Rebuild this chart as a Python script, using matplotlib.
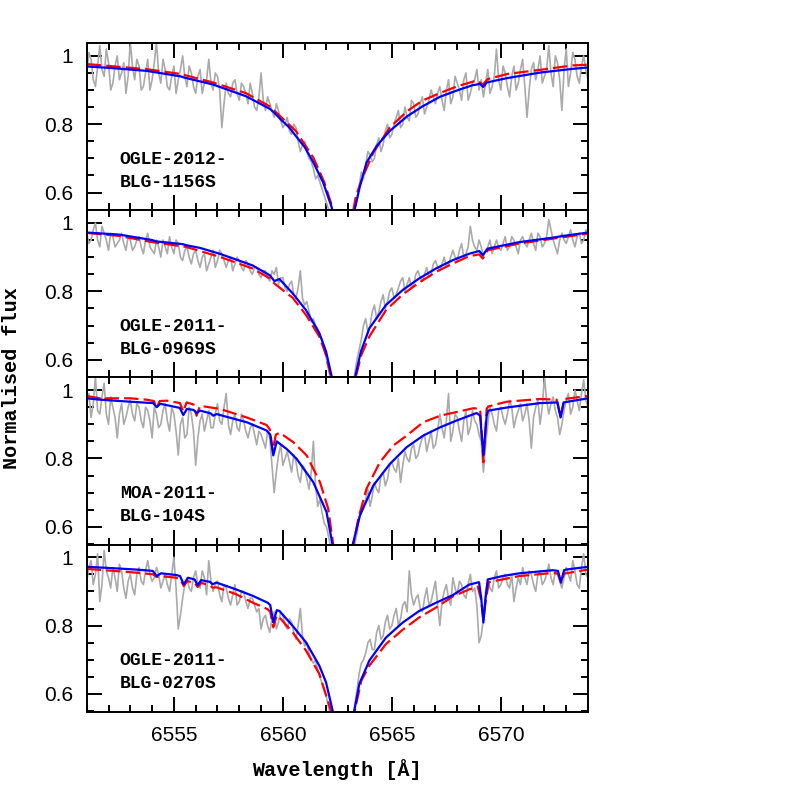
import numpy as np
import matplotlib.pyplot as plt
from matplotlib.ticker import FixedLocator, MultipleLocator

# observed spectra: obsN at 6551.0, 6551.2, ... and obsN_mid at 6551.1, 6551.3, ...
obs_start = 6551.0
obs_step = 0.1

obs1 = [0.95, 0.99, 0.91, 1.03, 0.94, 0.98, 0.92, 1.00, 0.95, 0.89,
        1.04, 0.93, 0.97, 0.91, 0.99, 0.93, 1.04, 0.92, 0.96, 0.90,
        0.97, 0.93, 1.00, 0.91, 0.95, 0.89, 0.96, 0.92, 0.99, 0.90,
        0.94, 0.79, 0.92, 0.88, 0.93, 0.87, 0.91, 0.86, 0.89, 0.84,
        0.95, 0.84, 0.86, 0.82, 0.84, 0.79, 0.82, 0.77, 0.79, 0.72,
        0.75, 0.70, 0.67, 0.65, 0.61, 0.57, 0.52, 0.46, 0.42, 0.40,
        0.44, 0.50, 0.58, 0.66, 0.68, 0.71, 0.70, 0.76, 0.74, 0.80,
        0.77, 0.82, 0.79, 0.85, 0.81, 0.86, 0.83, 0.88, 0.85, 0.90,
        0.86, 0.91, 0.84, 0.93, 0.88, 0.92, 0.87, 0.95, 0.89, 0.93,
        0.90, 0.88, 0.96, 0.91, 1.02, 0.90, 0.95, 0.88, 0.97, 0.92,
        0.99, 0.82, 0.96, 0.93, 1.00, 0.94, 1.03, 0.91, 0.98, 0.84,
        1.02, 0.95, 0.99, 0.92, 1.00, 0.93]
obs1_mid = [1.01, 0.93, 0.97, 0.96, 1.02, 0.90, 0.97, 0.93, 0.98, 0.94,
            0.97, 0.99, 0.90, 0.95, 0.90, 0.98, 0.95, 0.99, 0.91, 0.94,
            0.89, 0.96, 0.94, 0.97, 0.91, 0.94, 0.89, 0.93, 0.92, 0.95,
            0.90, 0.86, 0.89, 0.92, 0.89, 0.92, 0.89, 0.92, 0.85, 0.88,
            0.87, 0.88, 0.84, 0.86, 0.81, 0.80, 0.78, 0.80, 0.75, 0.74,
            0.72, 0.69, 0.64, 0.63, 0.59, 0.55, 0.49, 0.44, 0.41, 0.42,
            0.47, 0.55, 0.62, 0.64, 0.72, 0.69, 0.74, 0.72, 0.78, 0.76,
            0.80, 0.84, 0.80, 0.82, 0.87, 0.82, 0.86, 0.83, 0.87, 0.88,
            0.89, 0.87, 0.90, 0.86, 0.94, 0.90, 0.93, 0.87, 0.92, 0.96,
            0.93, 0.92, 0.89, 0.94, 0.93, 0.97, 0.91, 0.94, 0.90, 0.96,
            0.91, 0.90, 0.98, 0.96, 0.92, 0.96, 0.95, 1.00, 0.93, 0.96,
            0.91, 1.01, 0.94, 0.97, 0.96]

obs2 = [0.97, 0.95, 1.00, 0.93, 0.97, 0.92, 0.96, 0.94, 0.97, 0.92,
        0.95, 0.93, 0.96, 0.91, 0.97, 0.92, 0.95, 0.90, 0.93, 0.96,
        0.91, 0.94, 0.89, 0.93, 0.88, 0.92, 0.87, 0.91, 0.88, 0.92,
        0.89, 0.91, 0.87, 0.90, 0.88, 0.89, 0.86, 0.88, 0.85, 0.87,
        0.84, 0.86, 0.83, 0.85, 0.82, 0.84, 0.80, 0.83, 0.78, 0.86,
        0.76, 0.74, 0.72, 0.69, 0.66, 0.60, 0.54, 0.47, 0.42, 0.40,
        0.44, 0.51, 0.60, 0.66, 0.72, 0.70, 0.76, 0.74, 0.79, 0.77,
        0.81, 0.79, 0.83, 0.80, 0.84, 0.82, 0.86, 0.83, 0.87, 0.85,
        0.89, 0.86, 0.90, 0.88, 0.92, 0.89, 0.94, 0.91, 0.99, 0.93,
        0.95, 0.90, 0.93, 0.91, 0.95, 0.92, 0.96, 0.93, 0.95, 0.91,
        0.96, 0.93, 0.97, 0.92, 0.96, 0.94, 1.01, 0.95, 0.91, 0.97,
        0.94, 0.98, 0.93, 0.97, 0.95, 0.96]
obs2_mid = [0.94, 0.98, 0.95, 0.99, 0.95, 0.97, 0.93, 0.95, 0.94, 0.96,
            0.92, 0.95, 0.93, 0.95, 0.93, 0.91, 0.93, 0.95, 0.91, 0.93,
            0.95, 0.90, 0.92, 0.90, 0.91, 0.89, 0.90, 0.86, 0.90, 0.87,
            0.92, 0.89, 0.89, 0.86, 0.90, 0.87, 0.89, 0.86, 0.87, 0.85,
            0.86, 0.84, 0.86, 0.87, 0.84, 0.81, 0.82, 0.79, 0.81, 0.78,
            0.77, 0.71, 0.70, 0.67, 0.63, 0.57, 0.50, 0.44, 0.41, 0.41,
            0.47, 0.56, 0.63, 0.70, 0.68, 0.74, 0.72, 0.77, 0.75, 0.80,
            0.78, 0.81, 0.84, 0.82, 0.81, 0.85, 0.84, 0.85, 0.84, 0.88,
            0.87, 0.88, 0.87, 0.90, 0.90, 0.92, 0.90, 0.93, 0.95, 0.92,
            0.93, 0.92, 0.95, 0.93, 0.93, 0.94, 0.92, 0.96, 0.93, 0.95,
            0.94, 0.95, 0.94, 0.97, 0.93, 0.96, 0.98, 0.93, 0.95, 0.95,
            0.96, 0.95, 0.96, 0.94, 0.98]

obs3 = [0.96, 0.92, 1.04, 0.93, 1.02, 0.90, 0.95, 0.86, 0.96, 0.92,
        0.97, 0.91, 0.95, 0.89, 0.94, 0.86, 0.93, 0.90, 0.96, 0.88,
        0.93, 0.81, 0.92, 0.87, 0.93, 0.78, 0.91, 0.88, 0.94, 0.89,
        0.96, 0.90, 0.99, 0.87, 0.93, 0.88, 0.91, 0.86, 0.90, 0.84,
        0.87, 0.83, 0.86, 0.70, 0.81, 0.78, 0.82, 0.76, 0.79, 0.73,
        0.77, 0.71, 0.85, 0.66, 0.64, 0.60, 0.54, 0.48, 0.43, 0.41,
        0.45, 0.52, 0.58, 0.64, 0.68, 0.66, 0.73, 0.70, 0.76, 0.74,
        0.79, 0.76, 0.73, 0.82, 0.79, 0.84, 0.81, 0.86, 0.82, 0.88,
        0.84, 0.93, 0.86, 0.99, 0.88, 0.92, 0.85, 0.94, 0.89, 0.91,
        0.87, 0.76, 0.90, 0.93, 0.88, 0.95, 0.90, 0.97, 0.89, 0.94,
        0.91, 0.96, 0.83, 0.95, 0.90, 1.04, 0.93, 0.98, 0.92, 0.90,
        0.97, 0.93, 1.00, 0.94, 1.03, 0.95]
obs3_mid = [0.99, 0.96, 0.94, 0.98, 0.93, 0.98, 0.92, 0.93, 0.90, 0.95,
            0.93, 0.96, 0.91, 0.95, 0.91, 0.95, 0.89, 0.94, 0.91, 0.95,
            0.88, 0.90, 0.86, 0.95, 0.88, 0.86, 0.93, 0.91, 0.89, 0.93,
            0.91, 0.95, 0.90, 0.91, 0.89, 0.93, 0.88, 0.89, 0.87, 0.88,
            0.85, 0.88, 0.78, 0.76, 0.84, 0.80, 0.79, 0.81, 0.75, 0.78,
            0.74, 0.76, 0.72, 0.68, 0.61, 0.57, 0.50, 0.45, 0.42, 0.42,
            0.48, 0.55, 0.63, 0.66, 0.71, 0.69, 0.71, 0.75, 0.72, 0.78,
            0.77, 0.80, 0.78, 0.80, 0.83, 0.80, 0.84, 0.87, 0.85, 0.83,
            0.88, 0.89, 0.91, 0.85, 0.93, 0.88, 0.91, 0.87, 0.94, 0.90,
            0.85, 0.84, 0.95, 0.90, 0.94, 0.92, 0.93, 0.95, 0.92, 0.96,
            0.93, 0.91, 0.92, 0.97, 0.95, 0.97, 0.96, 0.94, 0.87, 0.94,
            0.99, 0.95, 0.97, 0.99, 0.97]

obs4 = [0.93, 0.99, 0.95, 0.87, 1.02, 0.94, 0.97, 0.90, 0.96, 0.88,
        0.95, 0.89, 0.97, 0.92, 0.99, 0.93, 0.97, 0.91, 0.95, 0.90,
        1.00, 0.79, 0.88, 0.94, 0.90, 0.96, 0.91, 0.94, 0.99, 0.90,
        0.93, 0.87, 0.91, 0.86, 0.92, 0.87, 0.90, 0.85, 0.88, 0.84,
        0.79, 0.83, 0.78, 0.84, 0.81, 0.83, 0.79, 0.81, 0.76, 0.85,
        0.74, 0.72, 0.69, 0.67, 0.63, 0.59, 0.53, 0.47, 0.42, 0.40,
        0.45, 0.52, 0.61, 0.69, 0.72, 0.76, 0.73, 0.80, 0.77, 0.83,
        0.80, 0.85, 0.82, 0.87, 0.96, 0.86, 0.89, 0.84, 0.91, 0.87,
        0.93, 0.80, 0.90, 0.88, 0.94, 0.89, 0.92, 0.88, 0.95, 0.91,
        0.75, 0.82, 0.93, 0.90, 0.96, 0.92, 0.95, 0.91, 0.87, 0.94,
        0.97, 0.92, 0.95, 0.90, 0.96, 0.93, 0.98, 0.92, 0.95, 0.91,
        0.97, 0.93, 0.96, 0.91, 1.01, 0.94]
obs4_mid = [0.97, 0.92, 1.01, 0.92, 0.96, 0.91, 0.94, 0.98, 0.91, 0.93,
            0.91, 0.95, 0.93, 0.96, 0.95, 0.94, 0.95, 0.93, 0.92, 0.95,
            0.91, 0.83, 0.92, 0.91, 0.94, 0.92, 0.96, 0.89, 0.93, 0.92,
            0.89, 0.92, 0.88, 0.89, 0.86, 0.90, 0.87, 0.88, 0.86, 0.85,
            0.82, 0.80, 0.82, 0.79, 0.84, 0.80, 0.82, 0.78, 0.80, 0.77,
            0.75, 0.70, 0.70, 0.65, 0.61, 0.56, 0.50, 0.44, 0.41, 0.42,
            0.48, 0.57, 0.66, 0.70, 0.75, 0.73, 0.78, 0.76, 0.81, 0.79,
            0.83, 0.80, 0.86, 0.84, 0.89, 0.88, 0.85, 0.88, 0.86, 0.90,
            0.86, 0.87, 0.92, 0.86, 0.91, 0.93, 0.89, 0.92, 0.90, 0.86,
            0.77, 0.90, 0.91, 0.94, 0.91, 0.94, 0.92, 0.95, 0.91, 0.92,
            0.94, 0.96, 0.92, 0.95, 0.92, 0.95, 0.94, 0.96, 0.93, 0.94,
            0.95, 0.99, 0.92, 0.97, 0.95]

# model 1 (blue, solid)
blue1_w = [6551.0, 6552.2, 6553.75, 6555.3, 6555.5, 6556.8, 6558.3, 6559.4, 6559.6, 6559.9,
           6560.3, 6560.6, 6561.0, 6561.4, 6561.85, 6562.24, 6562.4, 6562.75, 6563.1, 6563.3,
           6563.54, 6563.84, 6564.3, 6564.9, 6565.7, 6566.4, 6567.2, 6568.0, 6568.7, 6569.05,
           6569.19, 6569.35, 6570.3, 6571.8, 6573.3, 6574.0]
blue1_f = [0.969, 0.964, 0.956, 0.940, 0.936, 0.916, 0.882, 0.845, 0.834, 0.814,
           0.790, 0.765, 0.733, 0.688, 0.629, 0.557, 0.50, 0.35, 0.50, 0.552,
           0.620, 0.688, 0.736, 0.780, 0.823, 0.852, 0.880, 0.899, 0.914, 0.918,
           0.909, 0.922, 0.935, 0.951, 0.962, 0.966]

blue2_w = [6551.0, 6552.5, 6554.0, 6554.2, 6555.4, 6555.56, 6556.2, 6557.1, 6558.6, 6559.4,
           6559.61, 6559.84, 6560.45, 6561.06, 6561.67, 6561.98, 6562.24, 6562.4, 6562.75, 6563.1,
           6563.32, 6563.58, 6563.97, 6564.73, 6565.5, 6566.26, 6567.03, 6567.79, 6568.55, 6569.01,
           6569.17, 6569.4, 6570.85, 6572.38, 6572.84, 6574.0]
blue2_f = [0.972, 0.966, 0.950, 0.946, 0.938, 0.935, 0.927, 0.910, 0.876, 0.847,
           0.830, 0.836, 0.794, 0.745, 0.678, 0.624, 0.551, 0.50, 0.35, 0.50,
           0.551, 0.624, 0.692, 0.760, 0.804, 0.838, 0.867, 0.891, 0.910, 0.918,
           0.906, 0.925, 0.944, 0.957, 0.962, 0.972]

blue3_w = [6551.0, 6551.6, 6553.0, 6554.05, 6554.21, 6554.37, 6555.27, 6555.43, 6555.6, 6555.9,
           6556.04, 6556.2, 6556.68, 6556.81, 6556.95, 6558.34, 6559.25, 6559.42, 6559.56, 6559.72,
           6559.86, 6560.17, 6560.63, 6561.39, 6562.0, 6562.28, 6562.45, 6562.75, 6563.05, 6563.2,
           6563.54, 6564.15, 6564.91, 6565.68, 6566.44, 6567.21, 6567.97, 6568.89, 6569.05, 6569.2,
           6569.35, 6569.42, 6570.27, 6571.79, 6572.6, 6572.74, 6572.88, 6574.0]
blue3_f = [0.976, 0.972, 0.966, 0.962, 0.950, 0.960, 0.948, 0.927, 0.945, 0.942,
           0.933, 0.940, 0.932, 0.925, 0.930, 0.906, 0.882, 0.870, 0.809, 0.850,
           0.843, 0.828, 0.799, 0.731, 0.644, 0.547, 0.48, 0.35, 0.48, 0.547,
           0.634, 0.721, 0.784, 0.833, 0.867, 0.891, 0.911, 0.933, 0.925, 0.809,
           0.925, 0.940, 0.949, 0.962, 0.964, 0.920, 0.964, 0.976]

blue4_w = [6551.0, 6551.9, 6553.26, 6554.03, 6554.21, 6554.41, 6555.1, 6555.28, 6555.45, 6555.65,
           6555.95, 6556.09, 6556.25, 6556.65, 6556.78, 6556.95, 6557.85, 6558.62, 6559.3, 6559.42,
           6559.56, 6559.72, 6559.84, 6560.45, 6561.06, 6561.67, 6561.98, 6562.28, 6562.45, 6562.75,
           6563.05, 6563.28, 6563.51, 6563.97, 6564.73, 6565.5, 6566.26, 6567.03, 6567.79, 6568.55,
           6569.0, 6569.1, 6569.2, 6569.3, 6569.4, 6570.08, 6570.85, 6572.38, 6572.62, 6572.76,
           6572.9, 6573.0, 6574.0]
blue4_f = [0.972, 0.969, 0.964, 0.960, 0.945, 0.953, 0.948, 0.945, 0.921, 0.940,
           0.935, 0.918, 0.933, 0.928, 0.921, 0.926, 0.906, 0.887, 0.867, 0.860,
           0.809, 0.845, 0.843, 0.799, 0.751, 0.683, 0.634, 0.552, 0.48, 0.35,
           0.48, 0.552, 0.630, 0.698, 0.765, 0.809, 0.843, 0.867, 0.889, 0.920,
           0.927, 0.880, 0.809, 0.880, 0.935, 0.945, 0.953, 0.962, 0.960, 0.927,
           0.962, 0.964, 0.972]

# model 2 (red, dashed)
red1_w = [6551.0, 6553.75, 6555.3, 6556.8, 6558.3, 6559.4, 6560.6, 6561.4, 6561.9, 6562.2,
          6562.4, 6562.75, 6563.1, 6563.35, 6563.69, 6564.15, 6564.9, 6565.7, 6566.4, 6567.2,
          6568.0, 6568.9, 6569.17, 6569.4, 6570.3, 6571.8, 6573.3, 6574.0]
red1_f = [0.976, 0.961, 0.947, 0.922, 0.891, 0.852, 0.780, 0.702, 0.630, 0.571,
          0.52, 0.35, 0.50, 0.59, 0.649, 0.717, 0.790, 0.838, 0.869, 0.891,
          0.911, 0.928, 0.916, 0.932, 0.947, 0.959, 0.972, 0.974]

red2_w = [6551.0, 6552.5, 6554.0, 6555.56, 6557.1, 6558.6, 6559.4, 6559.61, 6560.45, 6561.06,
          6561.67, 6561.98, 6562.2, 6562.4, 6562.75, 6563.1, 6563.35, 6563.6, 6563.97, 6564.73,
          6565.5, 6566.26, 6567.03, 6567.79, 6568.55, 6569.01, 6569.17, 6569.4, 6570.85, 6572.38,
          6574.0]
red2_f = [0.971, 0.962, 0.944, 0.930, 0.901, 0.867, 0.838, 0.823, 0.781, 0.731,
          0.668, 0.614, 0.551, 0.50, 0.35, 0.50, 0.551, 0.614, 0.668, 0.745,
          0.791, 0.826, 0.857, 0.881, 0.903, 0.908, 0.896, 0.920, 0.940, 0.954,
          0.969]

red3_w = [6551.0, 6551.6, 6551.75, 6551.9, 6553.0, 6553.75, 6554.08, 6554.21, 6554.35, 6554.67,
          6555.28, 6555.43, 6555.58, 6555.9, 6556.04, 6556.2, 6557.11, 6558.34, 6559.25, 6559.4,
          6559.53, 6559.68, 6559.86, 6560.47, 6561.09, 6561.7, 6562.08, 6562.31, 6562.45, 6562.75,
          6563.05, 6563.23, 6563.46, 6563.84, 6564.45, 6565.07, 6565.68, 6566.44, 6567.21, 6568.74,
          6569.05, 6569.2, 6569.35, 6569.42, 6570.27, 6571.79, 6572.56, 6572.74, 6572.92, 6574.0]
red3_f = [0.983, 0.976, 0.969, 0.976, 0.976, 0.972, 0.968, 0.948, 0.968, 0.969,
          0.962, 0.937, 0.964, 0.958, 0.925, 0.954, 0.945, 0.920, 0.898, 0.885,
          0.823, 0.870, 0.875, 0.848, 0.809, 0.731, 0.653, 0.547, 0.48, 0.35,
          0.48, 0.547, 0.624, 0.712, 0.789, 0.838, 0.867, 0.906, 0.925, 0.947,
          0.945, 0.789, 0.945, 0.952, 0.966, 0.974, 0.972, 0.920, 0.974, 0.983]

red4_w = [6551.0, 6553.26, 6554.05, 6554.21, 6554.4, 6555.1, 6555.3, 6555.45, 6555.62, 6555.95,
          6556.09, 6556.25, 6556.65, 6556.78, 6556.95, 6557.85, 6558.62, 6559.3, 6559.42, 6559.56,
          6559.72, 6559.84, 6560.45, 6561.06, 6561.67, 6562.2, 6562.45, 6562.75, 6563.05, 6563.3,
          6563.6, 6563.97, 6564.73, 6565.5, 6566.26, 6567.03, 6567.79, 6568.55, 6568.94, 6569.08,
          6569.2, 6569.32, 6569.45, 6570.85, 6572.38, 6572.62, 6572.76, 6572.9, 6573.0, 6574.0]
red4_f = [0.966, 0.955, 0.950, 0.942, 0.945, 0.940, 0.935, 0.916, 0.930, 0.925,
          0.913, 0.925, 0.918, 0.911, 0.912, 0.892, 0.867, 0.848, 0.840, 0.795,
          0.830, 0.824, 0.780, 0.727, 0.659, 0.552, 0.48, 0.35, 0.48, 0.552,
          0.639, 0.683, 0.746, 0.788, 0.824, 0.853, 0.885, 0.906, 0.914, 0.880,
          0.819, 0.880, 0.927, 0.945, 0.954, 0.952, 0.925, 0.952, 0.953, 0.964]

names = [("OGLE-2012-", "BLG-1156S"),
         ("OGLE-2011-", "BLG-0969S"),
         ("MOA-2011-", "BLG-104S"),
         ("OGLE-2011-", "BLG-0270S")]

observed = [(obs1, obs1_mid), (obs2, obs2_mid), (obs3, obs3_mid), (obs4, obs4_mid)]
blues = [(blue1_w, blue1_f), (blue2_w, blue2_f), (blue3_w, blue3_f), (blue4_w, blue4_f)]
reds = [(red1_w, red1_f), (red2_w, red2_f), (red3_w, red3_f), (red4_w, red4_f)]

xticks = [6555, 6560, 6565, 6570]
yticks = [0.6, 0.8, 1.0]
ytick_labels = ["0.6", "0.8", "1"]

mono = ["Liberation Mono", "DejaVu Sans Mono"]
plt.rcParams["font.family"] = ["Liberation Sans", "DejaVu Sans"]

fig = plt.figure(figsize=(7.97, 7.97), dpi=100)

left = 0.1088
width = 0.629
height = 0.2097
bottom0 = 0.107

for i in range(4):
    ax = fig.add_axes([left, bottom0 + (3 - i) * height, width, height])
    even, odd = observed[i]
    flux = np.empty(len(even) + len(odd))
    flux[0::2] = even
    flux[1::2] = odd
    wave = obs_start + obs_step * np.arange(len(flux))
    ax.plot(wave, flux, color="#aaaaaa", lw=1.2)
    ax.plot(reds[i][0], reds[i][1], color="#ff0000", lw=1.6, ls=(0, (6.5, 2.3)))
    ax.plot(blues[i][0], blues[i][1], color="#0000ff", lw=1.6)

    ax.set_xlim(6551, 6574)
    ax.set_ylim(0.548, 1.037)
    ax.xaxis.set_major_locator(FixedLocator(xticks))
    ax.xaxis.set_minor_locator(MultipleLocator(1))
    ax.yaxis.set_major_locator(FixedLocator(yticks))
    ax.yaxis.set_minor_locator(MultipleLocator(0.05))
    ax.set_yticklabels(ytick_labels)
    ax.tick_params(which="both", direction="in", top=True, right=True,
                   width=1.4, labelsize=15, pad=10)
    ax.tick_params(which="major", length=10.5)
    ax.tick_params(which="minor", length=5.3)
    for s in ax.spines.values():
        s.set_linewidth(1.4)
    if i < 3:
        ax.set_xticklabels([])
    else:
        ax.set_xticklabels([str(t) for t in xticks])

    ax.text(0.066, 0.236, names[i][0] + "\n" + names[i][1], transform=ax.transAxes,
            family=mono, fontweight="bold", fontsize=13, va="center", ha="left",
            linespacing=1.45)

fig.text(0.4233, 0.034, "Wavelength [Å]", family=mono, fontweight="bold",
         fontsize=14.5, ha="center", va="center")
fig.text(0.015, 0.526, "Normalised flux", family=mono, fontweight="bold",
         fontsize=14.5, ha="center", va="center", rotation=90)

fig.savefig("out.png", dpi=100)
